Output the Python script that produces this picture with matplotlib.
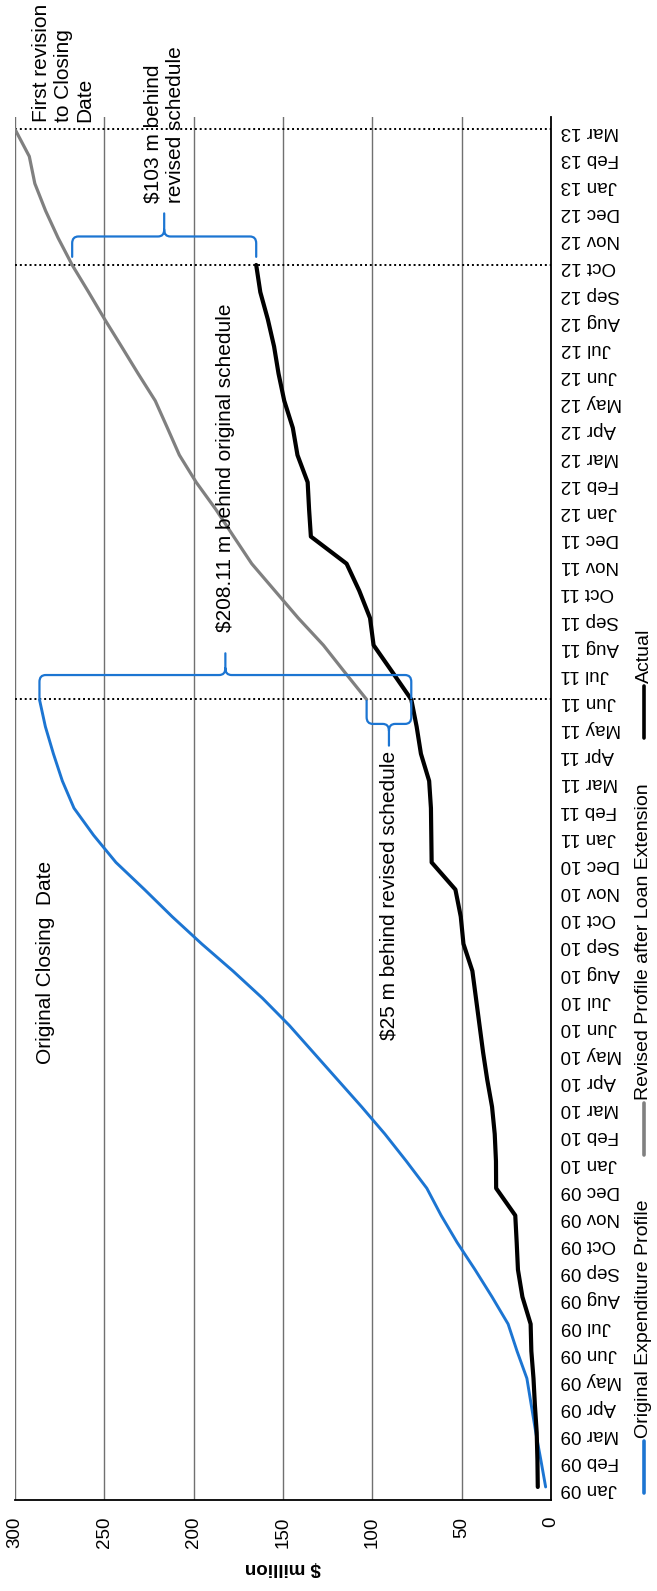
import matplotlib
matplotlib.use("Agg")
import matplotlib.pyplot as plt
import pandas as pd
from matplotlib.path import Path
from matplotlib.patches import PathPatch
from matplotlib.lines import Line2D

plt.rcParams['font.family'] = ['Liberation Sans', 'DejaVu Sans']

# month labels, Jan 09 .. Mar 13
meses = list(pd.date_range("2009-01-01", "2013-03-01", freq="MS").strftime("%b %y"))

# $ million, cumulative
original = [3.0, 5.7, 8.5, 11.0, 13.5, 19.0, 24.0, 33.0, 42.5, 52.5,
            61.5, 69.5, 81.0, 93.0, 106.0, 119.5, 133.0, 146.5, 161.5, 178.0,
            195.5, 212.0, 227.5, 243.5, 256.0, 267.0, 273.5, 278.5, 283.0, 286.31]
revisado = [103.2, 115.4, 127.4, 141.5, 154.5, 167.5, 177.6, 187.6, 198.6, 208.0,
            214.7, 221.5, 231.1, 240.4, 249.8, 258.8, 268.0, 275.9, 282.9, 288.9,
            292.0, 300.0]
real = [7.4, 7.6, 8.0, 9.0, 9.8, 11.0, 11.4, 16.0, 18.5, 19.2,
        20.0, 30.7, 30.8, 31.5, 33.0, 35.7, 38.0, 40.0, 42.0, 44.0,
        49.0, 50.5, 53.5, 66.8, 67.0, 67.2, 68.2, 72.8, 75.2, 78.2,
        88.7, 99.3, 101.3, 107.3, 114.4, 134.4, 135.4, 136.2, 141.9, 144.5,
        149.3, 152.5, 155.0, 158.5, 162.7, 165.0]

i_cierre = meses.index("Jun 11")      # original closing date
i_revision = meses.index("Mar 13")    # first revised closing date
i_corte = meses.index("Oct 12")       # last actual figure

AZUL = '#1c75d2'
GRIS = '#808080'

W, H = 657, 1591
fig = plt.figure(figsize=(W / 100, H / 100), dpi=100)
ax = fig.add_axes([15 / W, (H - 1500) / H, (551 - 15) / W, (1500 - 117) / H])

idx_orig = list(range(len(original)))
idx_rev = list(range(i_cierre, i_cierre + len(revisado)))
idx_real = list(range(len(real)))

ax.plot(original, idx_orig, color=AZUL, lw=2.1, solid_capstyle='round')
ax.plot(revisado, idx_rev, color=GRIS, lw=2.3, solid_capstyle='round')
ax.plot(real, idx_real, color='black', lw=3.0, solid_capstyle='round')

ax.set_xlim(300, 0)
ax.set_ylim(-0.48, 50.45)
ax.set_xticks(range(0, 301, 50))
ax.set_yticks(range(len(meses)))
ax.set_yticklabels(meses)
ax.yaxis.tick_right()
ax.tick_params(axis='y', length=0, pad=7, labelsize=13.5, labelrotation=180)
ax.tick_params(axis='x', length=0, pad=12, labelsize=13.5, labelrotation=90)
for t in ax.get_yticklabels():
    t.set_ha('left')
ax.set_xlabel("$ million", rotation=180, fontsize=13.5, fontweight='bold', labelpad=8)

ax.grid(axis='x', color='#707070', lw=1.0)
ax.set_axisbelow(True)
for lado in ['top', 'left']:
    ax.spines[lado].set_visible(False)
ax.spines['right'].set_linewidth(1.3)
ax.spines['bottom'].set_linewidth(1.3)

# dotted markers for the closing dates
for i in [i_cierre, i_corte, i_revision]:
    ax.axhline(i, color='black', lw=1.4, ls=(0, (1, 1.5)), zorder=1)


def llave(x0, x1, y_brazo, y_base, y_punta, rx=3.5, ry=0.25):
    """curly brace between x0 and x1, arms at y_brazo, tip at y_punta"""
    xm = (x0 + x1) / 2
    d = 1 if y_base > y_brazo else -1
    s = 1 if x1 > x0 else -1
    verts = [(x0, y_brazo), (x0, y_base - d * ry), (x0, y_base), (x0 + s * rx, y_base),
             (xm - s * rx, y_base), (xm, y_base), (xm, y_base + d * ry), (xm, y_punta),
             (xm, y_base + d * ry), (xm, y_base), (xm + s * rx, y_base),
             (x1 - s * rx, y_base), (x1, y_base), (x1, y_base - d * ry), (x1, y_brazo)]
    codes = [Path.MOVETO, Path.LINETO, Path.CURVE3, Path.CURVE3,
             Path.LINETO, Path.CURVE3, Path.CURVE3, Path.LINETO,
             Path.MOVETO, Path.CURVE3, Path.CURVE3,
             Path.LINETO, Path.CURVE3, Path.CURVE3, Path.LINETO]
    ax.add_patch(PathPatch(Path(verts, codes), fill=False, edgecolor=AZUL, lw=1.6,
                           capstyle='round', joinstyle='round', zorder=4))
    return xm


fs = 15
# gap against the original profile at the original closing date
xo = llave(original[i_cierre], real[i_cierre], i_cierre + 0.05, i_cierre + 0.9, i_cierre + 1.7)
ax.text(xo, i_cierre + 2.5, "$%.2f m behind original schedule" % (original[i_cierre] - real[i_cierre]),
        rotation=90, ha='center', va='bottom', fontsize=fs)

# gap against the revised profile at the original closing date
xr = llave(revisado[0], real[i_cierre], i_cierre - 0.05, i_cierre - 0.9, i_cierre - 1.7)
ax.text(xr, i_cierre - 1.9, "$%d m behind revised schedule" % round(revisado[0] - real[i_cierre]),
        rotation=90, ha='center', va='top', fontsize=fs)

# gap against the revised profile at the last actual figure
rev_corte = revisado[i_corte - i_cierre]
xc = llave(rev_corte, real[i_corte], i_corte + 0.3, i_corte + 1.05, i_corte + 1.9)
ax.text(xc, i_corte + 2.3, "$%d m behind\nrevised schedule" % round(rev_corte - real[i_corte]),
        rotation=90, ha='center', va='bottom', fontsize=fs, multialignment='left', clip_on=False)

ax.text(283, 19.3, "Original Closing  Date", rotation=90, ha='center', va='center', fontsize=fs)
ax.text(273, i_revision + 0.25, "First revision\nto Closing\nDate", rotation=90,
        ha='center', va='bottom', fontsize=fs, multialignment='left', clip_on=False)

# legend drawn sideways along the right edge
leyenda = [("Original Expenditure Profile", AZUL, 2.6),
           ("Revised Profile after Loan Extension", GRIS, 2.6),
           ("Actual", 'black', 2.6)]
xl = 644 / W
y = 1493
for texto, color, lw in leyenda:
    fig.add_artist(Line2D([xl, xl], [1 - y / H, 1 - (y - 52) / H], color=color, lw=lw,
                          solid_capstyle='round'))
    t = fig.text(xl, 1 - (y - 55) / H, texto, rotation=90, ha='center', va='bottom', fontsize=14)
    fig.canvas.draw()
    alto = t.get_window_extent().height
    y = y - 55 - alto - 45

fig.savefig("out.png", dpi=100)
